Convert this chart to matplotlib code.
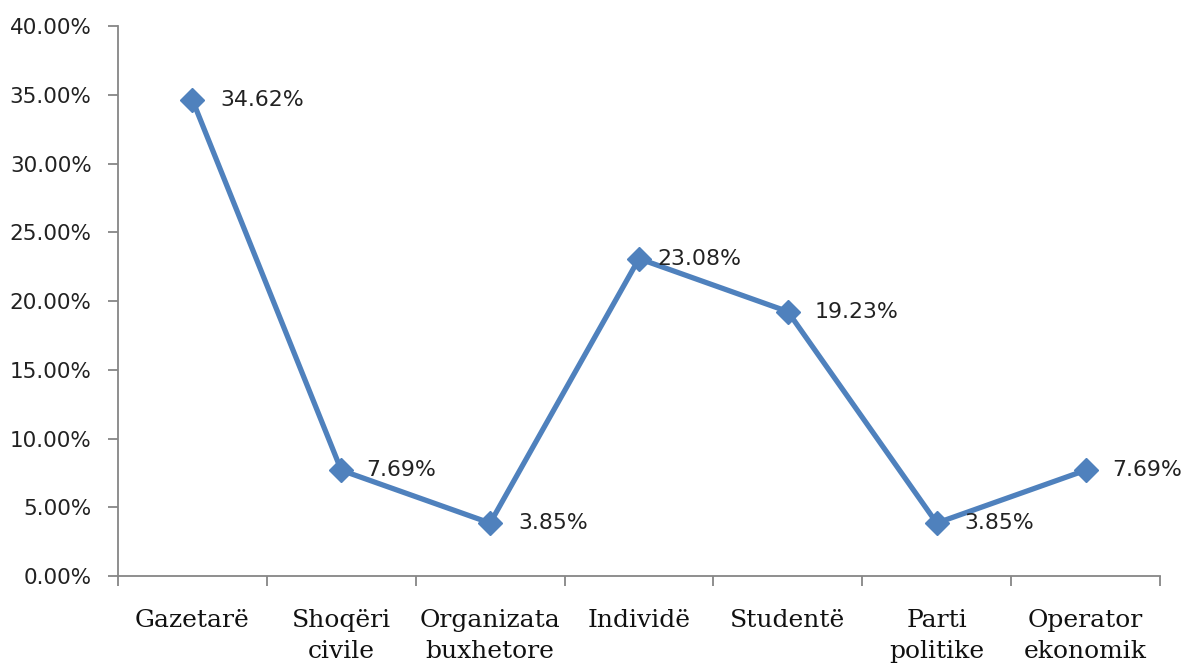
import matplotlib
matplotlib.use("Agg")
import matplotlib.pyplot as plt
from matplotlib.ticker import FuncFormatter, MultipleLocator

categories = ["Gazetarë", "Shoqëri\ncivile", "Organizata\nbuxhetore", "Individë",
              "Studentë", "Parti\npolitike", "Operator\nekonomik"]
values = [34.62, 7.69, 3.85, 23.08, 19.23, 3.85, 7.69]
labels = ["34.62%", "7.69%", "3.85%", "23.08%", "19.23%", "3.85%", "7.69%"]
label_dx = [20, 18, 20, 13, 19, 20, 19]  # offsets in points

fig = plt.figure(figsize=(11.84, 6.71), dpi=100)
ax = fig.add_axes([118/1184, 1-576/671, (1160-118)/1184, (576-26)/671])

x = list(range(len(categories)))
color = "#4F81BD"
ax.plot(x, values, color=color, lw=3.8, marker="D", markersize=12.5,
        markerfacecolor=color, markeredgecolor=color, solid_joinstyle="miter", zorder=3)

for xi, v, lab, dx in zip(x, values, labels, label_dx):
    ax.annotate(lab, (xi, v), xytext=(dx, 0), textcoords="offset points",
                ha="left", va="center", fontsize=15.8, color="#222222",
                family="DejaVu Sans")

ax.set_xlim(-0.5, len(categories) - 0.5)
ax.set_ylim(0, 40)
ax.yaxis.set_major_locator(MultipleLocator(5))
ax.yaxis.set_major_formatter(FuncFormatter(lambda v, p: f"{v:.2f}%"))

ax.set_xticks([i - 0.5 for i in range(len(categories) + 1)])
ax.set_xticklabels([])
ax.set_xticks(x, minor=True)
ax.set_xticklabels(categories, minor=True, family="DejaVu Serif", fontsize=18,
                   linespacing=1.45, color="#111111", va="top")
ax.tick_params(axis="x", which="minor", length=0, pad=24)
ax.tick_params(axis="x", which="major", length=7, width=1.3, color="#868686")
ax.tick_params(axis="y", which="major", length=7, width=1.3, color="#868686",
               labelsize=15.5, labelcolor="#222222", pad=12)

for s in ["top", "right"]:
    ax.spines[s].set_visible(False)
for s in ["left", "bottom"]:
    ax.spines[s].set_color("#868686")
    ax.spines[s].set_linewidth(1.3)

fig.savefig("out.png", dpi=100)
